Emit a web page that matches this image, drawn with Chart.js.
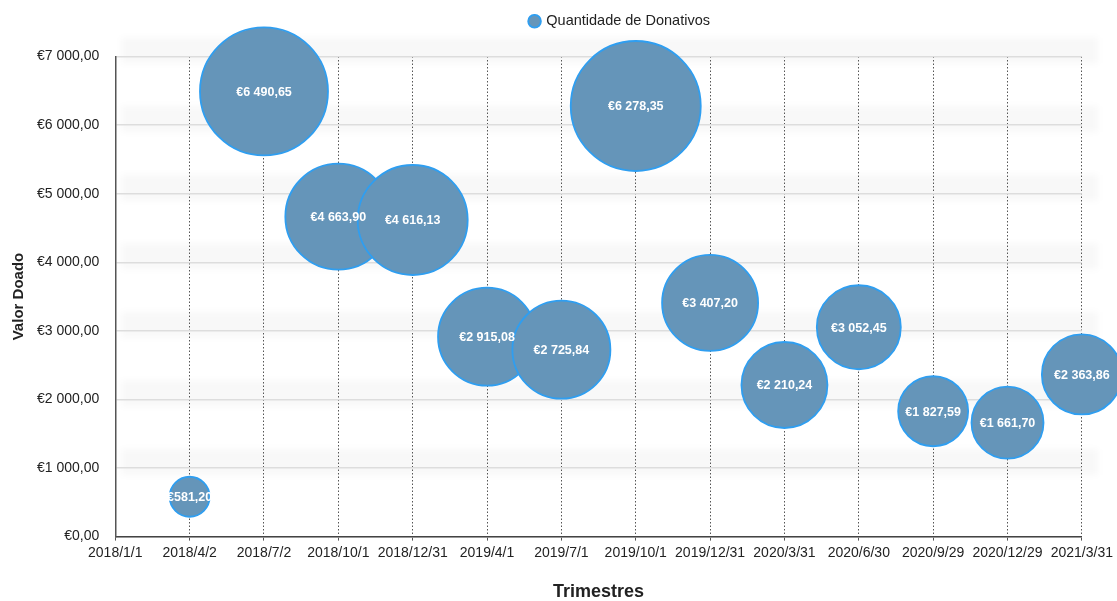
<!DOCTYPE html>
<html>
<head>
<meta charset="utf-8">
<script src="https://cdn.jsdelivr.net/npm/chart.js@4.4.1/dist/chart.umd.min.js"></script>
<style>
  html, body { margin: 0; padding: 0; background: #fff; }
  #wrap { width: 1117px; height: 601px; }
</style>
</head>
<body>
<div id="wrap"><canvas id="donativos"></canvas></div>
<script>
// Trimestres (eixo X)
const trimestres = ['2018/1/1', '2018/4/2', '2018/7/2', '2018/10/1', '2018/12/31', '2019/4/1', '2019/7/1',
    '2019/10/1', '2019/12/31', '2020/3/31', '2020/6/30', '2020/9/29', '2020/12/29', '2021/3/31'];
// Trimestres com donativos (a partir de 2018/4/2)
const trimestresDonativos = trimestres.slice(1);
// Valor doado por trimestre
const valores = [581.20, 6490.65, 4663.90, 4616.13, 2915.08, 2725.84, 6278.35, 3407.20, 2210.24, 3052.45, 1827.59, 1661.70, 2363.86];
// Tamanho da bolha (quantidade de donativos, em px de raio)
const raios = [20, 64, 53, 55, 49, 49, 65, 48, 43, 42, 35, 36, 40];
// Ticks do eixo Y
const ticksY = [0, 1000, 2000, 3000, 4000, 5000, 6000, 7000];

const FONT = 'Helvetica, "Liberation Sans", Arial, sans-serif';

function euro(v) {
    const partes = v.toFixed(2).split('.');
    return '€' + partes[0].replace(/\B(?=(\d{3})+(?!\d))/g, ' ') + ',' + partes[1];
}

// faixas cinzentas suaves por cima das linhas horizontais
const faixas = {
    id: 'faixas',
    beforeDraw(chart) {
        const { ctx, chartArea, scales } = chart;
        ctx.save();
        ctx.filter = 'blur(3px)';
        ctx.fillStyle = 'rgba(0,0,0,0.028)';
        ticksY.slice(1).forEach(v => {
            const y = scales.y.getPixelForValue(v);
            ctx.fillRect(chartArea.left + 6, y - 19, chartArea.right - chartArea.left + 10, 26);
        });
        ctx.restore();
    }
};

// rótulos de valor dentro das bolhas
const rotulos = {
    id: 'rotulos',
    afterDatasetsDraw(chart) {
        const { ctx } = chart;
        const meta = chart.getDatasetMeta(0);
        ctx.save();
        ctx.font = 'bold 12.5px ' + FONT;
        ctx.fillStyle = '#ffffff';
        ctx.textAlign = 'center';
        ctx.textBaseline = 'middle';
        meta.data.forEach((el, i) => {
            ctx.fillText(euro(valores[i]), el.x, el.y + 1);
        });
        ctx.restore();
    }
};

// espaço extra entre legenda e gráfico, e legenda um pouco à direita
const ajusteLegenda = {
    id: 'ajusteLegenda',
    beforeInit(chart) {
        const fitOriginal = chart.legend.fit;
        chart.legend.fit = function () {
            fitOriginal.bind(chart.legend)();
            this.height += 18;
        };
    },
    afterLayout(chart) {
        chart.legend.left += 58;
        chart.legend.right += 58;
    }
};

const ctx = document.getElementById('donativos').getContext('2d');
const grafico = new Chart(ctx, {
    type: 'bubble',
    data: {
        labels: trimestres,
        datasets: [{
            label: 'Quantidade de Donativos',
            data: trimestresDonativos.map((t, i) => ({ x: t, y: valores[i], r: raios[i] })),
            backgroundColor: 'rgb(101,149,185)',
            borderColor: '#2f9ef0',
            borderWidth: 1.8,
            clip: false
        }]
    },
    options: {
        responsive: true,
        maintainAspectRatio: false,
        animation: false,
        layout: { autoPadding: false, padding: { top: 14, right: -7, left: 0, bottom: 0 } },
        plugins: {
            legend: {
                position: 'top',
                labels: {
                    usePointStyle: true,
                    pointStyle: 'circle',
                    boxWidth: 9,
                    boxHeight: 9,
                    padding: 0,
                    color: '#222',
                    font: { family: FONT, size: 14.5 }
                }
            },
            tooltip: { enabled: false }
        },
        scales: {
            x: {
                type: 'category',
                labels: trimestres,
                offset: false,
                grid: {
                    color: '#555',
                    lineWidth: 1,
                    tickLength: 4
                },
                border: { display: true, color: '#444', width: 1.5, dash: [1.5, 2] },
                ticks: {
                    color: '#222',
                    font: { family: FONT, size: 14 },
                    maxRotation: 0,
                    autoSkip: false,
                    padding: 4
                },
                title: {
                    display: true,
                    text: 'Trimestres',
                    color: '#222',
                    font: { family: FONT, size: 18, weight: 'bold' },
                    padding: { top: 16, bottom: -2 }
                }
            },
            y: {
                min: 0,
                max: 7000,
                ticks: {
                    stepSize: 1000,
                    color: '#222',
                    font: { family: FONT, size: 14 },
                    padding: 16,
                    callback: v => euro(v)
                },
                grid: { color: '#dddddd', lineWidth: 1.5, drawTicks: false },
                border: { display: true, color: '#555', width: 1.5 },
                title: {
                    display: true,
                    text: 'Valor Doado',
                    color: '#222',
                    font: { family: FONT, size: 15, weight: 'bold' },
                    padding: { top: 10, bottom: -7 }
                }
            }
        }
    },
    plugins: [faixas, rotulos, ajusteLegenda]
});
</script>
</body>
</html>
